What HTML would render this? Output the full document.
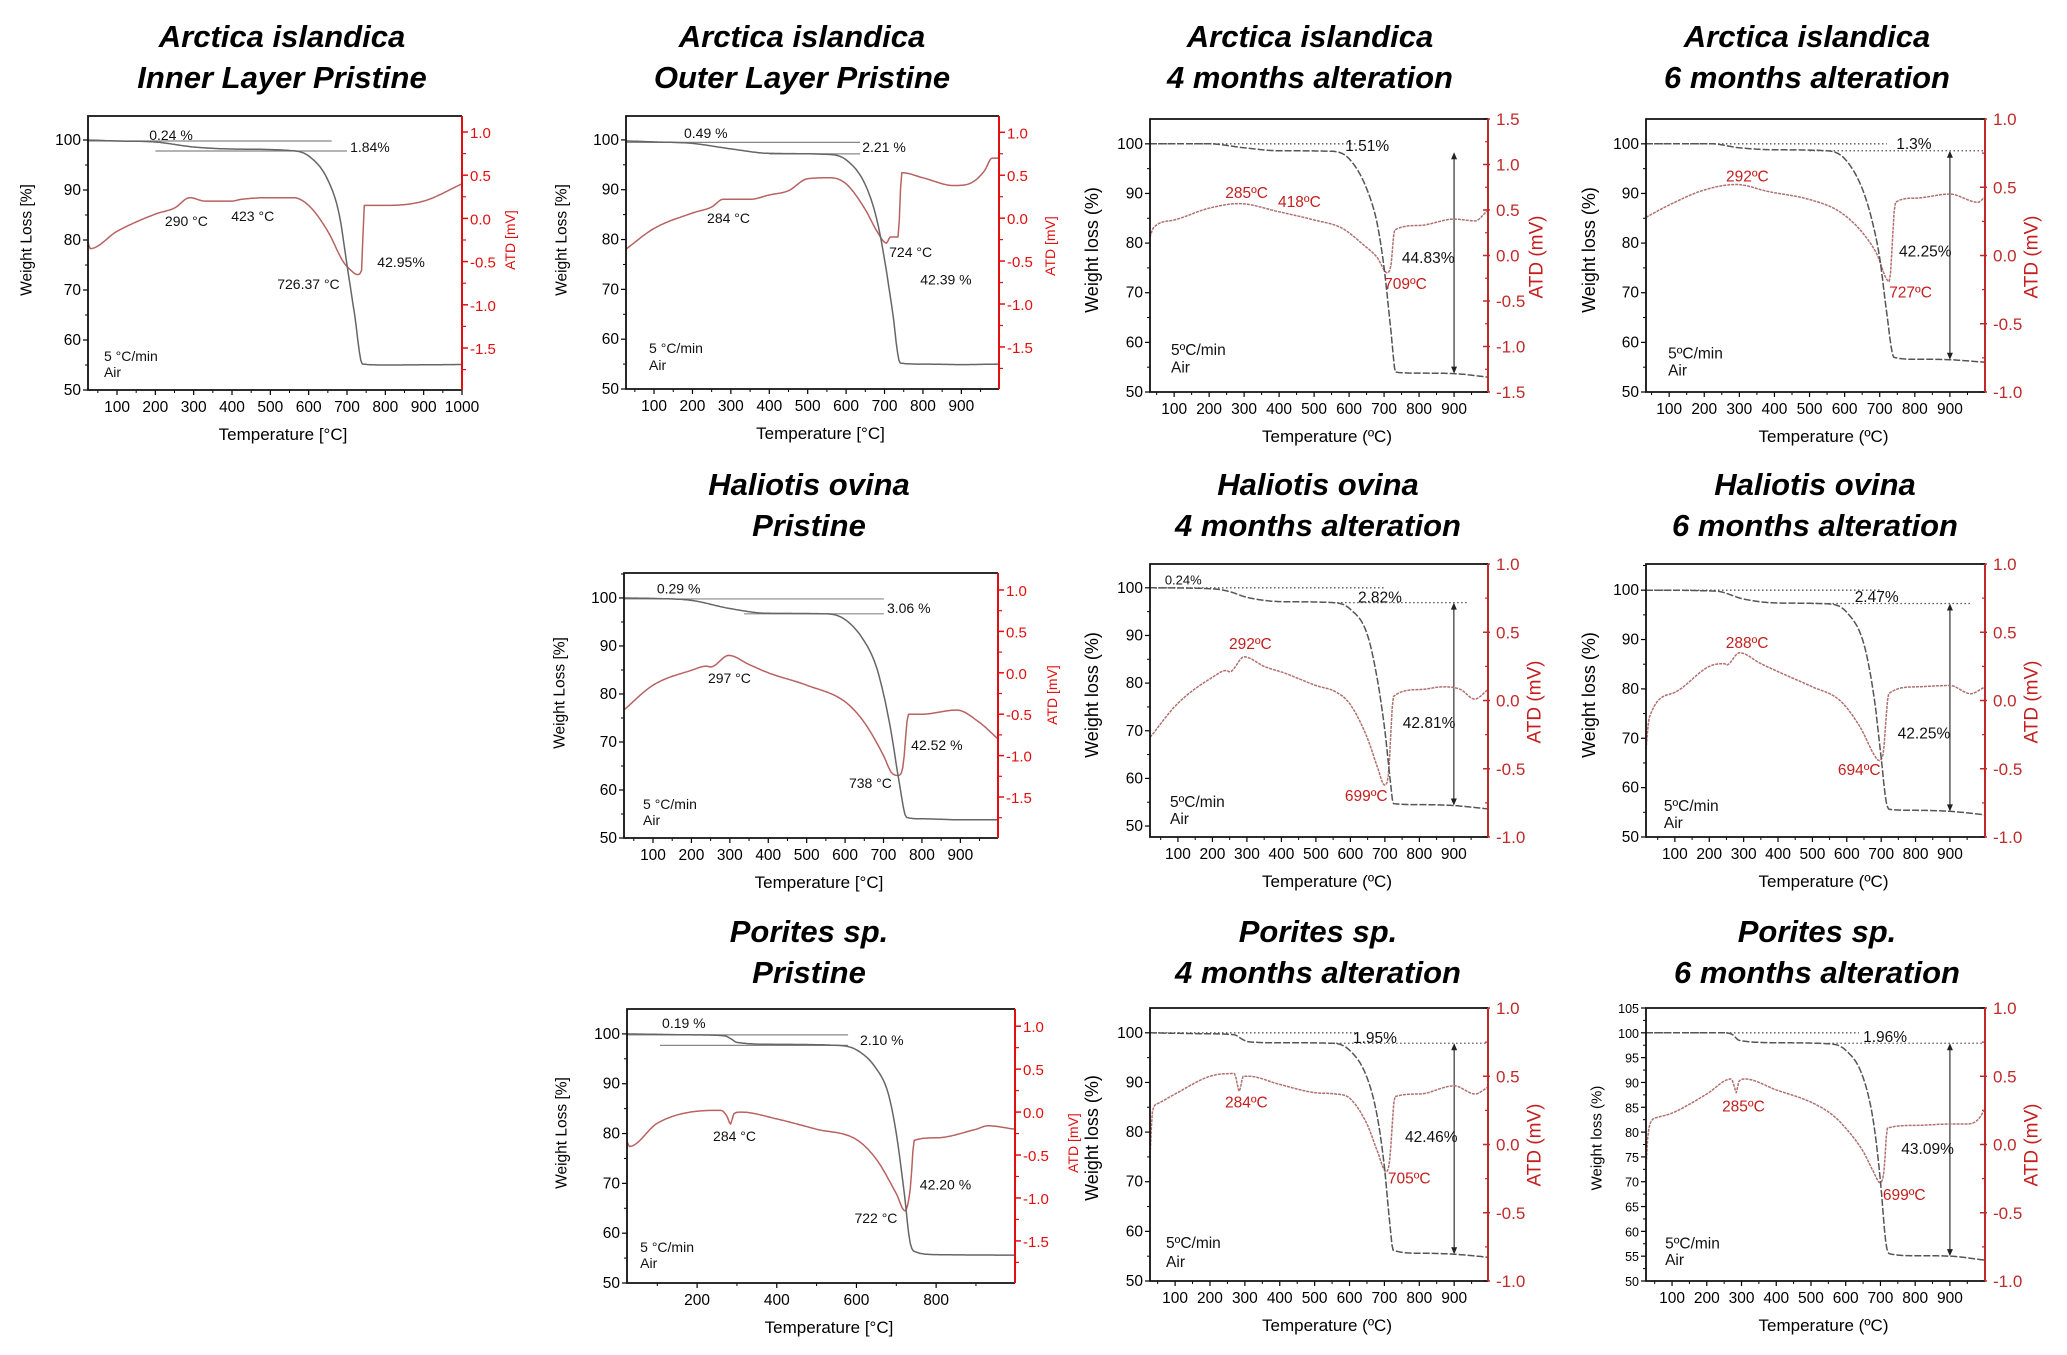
<!DOCTYPE html>
<html><head><meta charset="utf-8">
<style>
html,body{margin:0;padding:0;background:#fff;}
svg{display:block;font-family:"Liberation Sans",Arial,sans-serif;}
</style></head>
<body>
<svg id="fig" width="2067" height="1355" viewBox="0 0 2067 1355" xmlns="http://www.w3.org/2000/svg"></svg>
<script>
// ===== Data (temperature °C, weight %, ATD mV) =====
const p1_tgT=[24,100,200,300,400,550,600,650,680,700,720,740,800,1000];
const p1_tgW=[100,99.8,99.6,98.6,98.2,97.9,96.8,92,85,75,65,55.2,55,55.1];
const p1_dtT=[24,30,100,200,250,290,330,400,423,500,560,600,650,690,710,727,738,745,800,900,1000];
const p1_dtV=[-0.27,-0.35,-0.15,0.05,0.12,0.24,0.2,0.2,0.22,0.24,0.24,0.15,-0.15,-0.5,-0.6,-0.65,-0.6,0.15,0.15,0.2,0.4];

const p2_tgT=[27,100,200,300,400,550,600,650,680,700,720,741,800,900,998];
const p2_tgW=[99.8,99.6,99.3,98.2,97.3,97.1,96,91,84,76,66,55.2,55,54.9,55];
const p2_dtT=[27,100,200,250,280,350,400,450,500,560,600,650,680,705,715,735,745,800,880,920,960,980,998];
const p2_dtV=[-0.36,-0.12,0.06,0.13,0.22,0.22,0.27,0.32,0.46,0.47,0.4,0.1,-0.15,-0.29,-0.22,-0.22,0.53,0.47,0.38,0.4,0.55,0.7,0.7];

const p3_tgT=[31,200,300,400,550,600,650,680,700,720,733,800,900,997];
const p3_tgW=[100,100,99.2,98.6,98.5,97,91,84,75,62,54,53.8,53.7,53];
const p3_dtT=[31,40,100,200,285,400,500,580,640,680,709,720,730,800,900,960,997];
const p3_dtV=[0.2,0.3,0.39,0.52,0.57,0.48,0.39,0.3,0.12,-0.02,-0.19,-0.1,0.28,0.33,0.4,0.38,0.5];

const p4_tgT=[34,220,300,400,550,600,650,680,700,720,740,800,900,1000];
const p4_tgW=[100,100,99.2,98.8,98.6,97,91,84,77,66,57,56.6,56.5,56];
const p4_dtT=[34,100,200,292,380,500,580,640,690,727,745,800,900,980,1000];
const p4_dtV=[0.28,0.37,0.48,0.52,0.47,0.41,0.33,0.2,0.02,-0.19,0.39,0.42,0.45,0.39,0.43];

const p5_tgT=[24,100,200,300,400,550,600,650,680,700,720,740,760,800,900,998];
const p5_tgW=[100,99.9,99.5,97.8,96.8,96.7,95.5,91,86,80,72,62,54.3,54,53.8,53.8];
const p5_dtT=[24,100,200,240,250,297,350,400,500,600,650,700,720,738,750,765,800,890,950,998];
const p5_dtV=[-0.45,-0.15,0.03,0.08,0.07,0.21,0.1,0.0,-0.15,-0.35,-0.6,-1.0,-1.2,-1.24,-1.15,-0.5,-0.5,-0.45,-0.6,-0.8];

const p6_tgT=[19,200,250,300,400,550,600,650,680,700,715,725,800,900,999];
const p6_tgW=[100,99.8,99.2,98,97.1,96.9,95.5,90,80,70,60,54.7,54.5,54.3,53.6];
const p6_dtT=[19,100,200,240,250,292,350,410,500,560,600,650,680,699,710,725,800,870,920,960,999];
const p6_dtV=[-0.27,-0.02,0.17,0.22,0.21,0.32,0.25,0.2,0.11,0.06,-0.03,-0.28,-0.5,-0.62,-0.55,0.03,0.08,0.1,0.08,0.01,0.08];

const p7_tgT=[16,220,300,400,550,600,650,680,700,715,725,800,900,1002];
const p7_tgW=[100,99.8,98.2,97.4,97.2,95.5,89,78,66,57,55.6,55.4,55.2,54.5];
const p7_dtT=[16,25,100,200,245,250,288,350,410,500,580,640,680,694,705,722,800,900,960,1002];
const p7_dtV=[-0.36,-0.13,0.06,0.25,0.27,0.26,0.35,0.27,0.2,0.1,0.0,-0.2,-0.4,-0.44,-0.4,0.05,0.1,0.11,0.05,0.1];

const p8_tgT=[24,200,270,285,300,400,550,600,650,680,700,720,735,750,800,998];
const p8_tgW=[100,99.8,99.6,99,98.3,97.9,97.7,96.8,93,88,80,68,58,56.2,55.7,55.6];
const p8_dtT=[24,30,100,200,260,275,284,292,310,400,500,600,650,700,722,735,745,800,900,930,998];
const p8_dtV=[-0.34,-0.4,-0.13,0.01,0.02,-0.05,-0.14,-0.02,0.0,-0.08,-0.2,-0.32,-0.55,-0.95,-1.15,-0.9,-0.33,-0.3,-0.2,-0.16,-0.2];

const p9_tgT=[28,200,270,290,310,400,550,600,650,680,700,715,725,800,900,997];
const p9_tgW=[100,99.8,99.6,98.8,98.2,98,97.9,96.5,91,83,73,62,56.2,55.6,55.4,54.8];
const p9_dtT=[28,35,50,100,200,270,284,295,310,400,500,560,600,650,680,705,715,730,800,900,960,997];
const p9_dtV=[-0.1,0.24,0.3,0.37,0.5,0.52,0.39,0.5,0.5,0.44,0.38,0.37,0.34,0.15,-0.05,-0.2,-0.12,0.35,0.37,0.43,0.37,0.42];

const p10_tgT=[25,250,275,290,310,400,550,600,650,680,700,715,725,800,900,1001];
const p10_tgW=[100,100,99.6,98.6,98.3,98,97.8,96.5,91,82,70,58,55.5,55.1,55,54.2];
const p10_dtT=[25,30,40,60,100,200,270,280,285,292,310,400,500,560,600,650,680,699,710,720,800,900,950,980,1001];
const p10_dtV=[-0.17,0.05,0.17,0.2,0.23,0.37,0.48,0.42,0.38,0.46,0.48,0.4,0.31,0.22,0.12,-0.05,-0.2,-0.28,-0.2,0.12,0.14,0.15,0.15,0.18,0.26];

// tick label arrays
const xTicks100=[100,200,300,400,500,600,700,800,900,1000];
const xTicks200=[200,400,600,800];
const yTicks10=[50,60,70,80,90,100];
const yTicks5=[50,55,60,65,70,75,80,85,90,95,100,105];
const rTicksA=[1.0,0.5,0.0,-0.5,-1.0,-1.5];
const rTicksB=[1.5,1.0,0.5,0.0,-0.5,-1.0,-1.5];
const rTicksC=[1.0,0.5,0.0,-0.5,-1.0];

// ===== Panels =====
const panels=[
 {id:'p1',t1:'Arctica islandica',t2:'Inner Layer Pristine',cx:282,tb:47,L:88,R:462,T:116,B:390,xmin:24.3,xmax:1000,ymin:50,ymax:104.8,rmin:-1.986,rmax:1.185,
  xt:xTicks100,yt:yTicks10,rt:rTicksA,tgT:p1_tgT,tgW:p1_tgW,dtT:p1_dtT,dtV:p1_dtV,prist:true,lx:27,ly:240,rx:510,ry:240,
  refs:[[24,660,99.8],[200,700,97.8]],arrow:null,
  notes:[['0.24 %',184,101,'k'],['1.84%',708,98.6,'k'],['290 °C',225,83.8,'k'],['423 °C',398,84.8,'k'],['726.37 °C',518,71.2,'k'],['42.95%',779,75.6,'k'],['5 °C/min',66,56.8,'k'],['Air',66,53.6,'k']]},
 {id:'p2',t1:'Arctica islandica',t2:'Outer Layer Pristine',cx:802,tb:47,L:626,R:999,T:116,B:389,xmin:27,xmax:998,ymin:50,ymax:104.8,rmin:-1.99,rmax:1.19,
  xt:xTicks100.slice(0,9),yt:yTicks10,rt:rTicksA,tgT:p2_tgT,tgW:p2_tgW,dtT:p2_dtT,dtV:p2_dtV,prist:true,lx:562,ly:240,rx:1050,ry:246,
  refs:[[27,636,99.5],[400,636,97.2]],arrow:null,
  notes:[['0.49 %',178,101.4,'k'],['2.21 %',642,98.6,'k'],['284 °C',238,84.3,'k'],['724 °C',712,77.5,'k'],['42.39 %',793,72,'k'],['5 °C/min',87,58.2,'k'],['Air',87,54.8,'k']]},
 {id:'p3',t1:'Arctica islandica',t2:'4 months alteration',cx:1310,tb:47,L:1150,R:1488,T:119,B:392,xmin:31,xmax:997,ymin:50,ymax:105,rmin:-1.5,rmax:1.5,
  xt:xTicks100.slice(0,9),yt:yTicks10,rt:rTicksB,tgT:p3_tgT,tgW:p3_tgW,dtT:p3_dtT,dtV:p3_dtV,prist:false,lx:1092,ly:250,rx:1537,ry:257,
  refs:[[31,620,100]],arrow:[900,98.3,53.7],
  notes:[['1.51%',589,99.6,'k'],['285ºC',246,90.1,'r'],['418ºC',397,88.3,'r'],['709ºC',700,71.8,'r'],['44.83%',751,77,'k'],['5ºC/min',91,58.5,'k'],['Air',91,54.9,'k']]},
 {id:'p4',t1:'Arctica islandica',t2:'6 months alteration',cx:1807,tb:47,L:1646,R:1985,T:119,B:392,xmin:34,xmax:1000,ymin:50,ymax:105,rmin:-1,rmax:1,
  xt:xTicks100.slice(0,9),yt:yTicks10,rt:rTicksC,tgT:p4_tgT,tgW:p4_tgW,dtT:p4_dtT,dtV:p4_dtV,prist:false,lx:1589,ly:250,rx:2032,ry:257,
  refs:[[34,720,100],[500,1000,98.6]],arrow:[900,98.6,56.5],
  notes:[['1.3%',747,100,'k'],['292ºC',262,93.4,'r'],['42.25%',755,78.3,'k'],['727ºC',727,70,'r'],['5ºC/min',97,57.8,'k'],['Air',97,54.3,'k']]},
 {id:'p5',t1:'Haliotis ovina',t2:'Pristine',cx:809,tb:495,L:624,R:998,T:573,B:838,xmin:24.5,xmax:998,ymin:50,ymax:105.2,rmin:-1.995,rmax:1.205,
  xt:xTicks100.slice(0,9),yt:yTicks10,rt:rTicksA,tgT:p5_tgT,tgW:p5_tgW,dtT:p5_dtT,dtV:p5_dtV,prist:true,lx:560,ly:693,rx:1052,ry:695,
  refs:[[24,701,99.8],[337,701,96.7]],arrow:null,
  notes:[['0.29 %',110,102,'k'],['3.06 %',709,97.9,'k'],['297 °C',243,83.3,'k'],['738 °C',610,61.5,'k'],['42.52 %',772,69.4,'k'],['5 °C/min',74,57.1,'k'],['Air',74,53.8,'k']]},
 {id:'p6',t1:'Haliotis ovina',t2:'4 months alteration',cx:1318,tb:495,L:1150,R:1488,T:564,B:837,xmin:19,xmax:999,ymin:47.7,ymax:105,rmin:-1,rmax:1,
  xt:xTicks100.slice(0,9),yt:yTicks10,rt:rTicksC,tgT:p6_tgT,tgW:p6_tgW,dtT:p6_dtT,dtV:p6_dtV,prist:false,lx:1092,ly:695,rx:1535,ry:702,
  refs:[[19,700,100],[550,938,96.9]],arrow:[900,96.9,54.3],
  notes:[['0.24%',62,101.7,'k',13],['2.82%',622,98,'k'],['292ºC',248,88.2,'r'],['42.81%',752,71.6,'k'],['699ºC',584,56.3,'r'],['5ºC/min',77,55,'k'],['Air',77,51.5,'k']]},
 {id:'p7',t1:'Haliotis ovina',t2:'6 months alteration',cx:1815,tb:495,L:1646,R:1985,T:564,B:837,xmin:16,xmax:1002,ymin:50,ymax:105.3,rmin:-1,rmax:1,
  xt:xTicks100.slice(0,9),yt:yTicks10,rt:rTicksC,tgT:p7_tgT,tgW:p7_tgW,dtT:p7_dtT,dtV:p7_dtV,prist:false,lx:1589,ly:695,rx:2032,ry:702,
  refs:[[16,700,100],[500,960,97.3]],arrow:[900,97.3,55.2],
  notes:[['2.47%',623,98.6,'k'],['288ºC',248,89.3,'r'],['42.25%',748,71,'k'],['694ºC',574,63.6,'r'],['5ºC/min',68,56.3,'k'],['Air',68,52.8,'k']]},
 {id:'p8',t1:'Porites sp.',t2:'Pristine',cx:809,tb:942,L:627,R:1015,T:1009,B:1283,xmin:24,xmax:998,ymin:50,ymax:105,rmin:-1.99,rmax:1.2,
  xt:xTicks200,yt:yTicks10,rt:rTicksA,tgT:p8_tgT,tgW:p8_tgW,dtT:p8_dtT,dtV:p8_dtV,prist:true,lx:562,ly:1133,rx:1073,ry:1143,
  refs:[[24,579,99.8],[107,579,97.7]],arrow:null,
  notes:[['0.19 %',112,102.2,'k'],['2.10 %',609,98.8,'k'],['284 °C',240,79.5,'k'],['722 °C',595,63,'k'],['42.20 %',759,69.8,'k'],['5 °C/min',57,57.2,'k'],['Air',57,54,'k']]},
 {id:'p9',t1:'Porites sp.',t2:'4 months alteration',cx:1318,tb:942,L:1150,R:1488,T:1008,B:1281,xmin:28,xmax:997,ymin:50,ymax:105,rmin:-1,rmax:1,
  xt:xTicks100.slice(0,9),yt:yTicks10,rt:rTicksC,tgT:p9_tgT,tgW:p9_tgW,dtT:p9_dtT,dtV:p9_dtV,prist:false,lx:1092,ly:1138,rx:1535,ry:1145,
  refs:[[28,620,100],[550,997,97.9]],arrow:[900,97.9,55.4],
  notes:[['1.95%',610,99,'k'],['284ºC',243,86,'r'],['42.46%',759,79,'k'],['705ºC',710,70.6,'r'],['5ºC/min',74,57.7,'k'],['Air',74,53.8,'k']]},
 {id:'p10',t1:'Porites sp.',t2:'6 months alteration',cx:1817,tb:942,L:1646,R:1985,T:1008,B:1281,xmin:25,xmax:1001,ymin:50,ymax:105,rmin:-1,rmax:1,
  xt:xTicks100.slice(0,9),yt:yTicks5,rt:rTicksC,tgT:p10_tgT,tgW:p10_tgW,dtT:p10_dtT,dtV:p10_dtV,prist:false,lx:1597,ly:1138,rx:2032,ry:1145,small:true,
  refs:[[25,638,100],[550,1001,97.9]],arrow:[900,97.9,55],
  notes:[['1.96%',650,99.2,'k'],['285ºC',244,85.2,'r'],['43.09%',760,76.6,'k'],['699ºC',707,67.3,'r'],['5ºC/min',80,57.6,'k'],['Air',80,54.2,'k']]}
];

const NS='http://www.w3.org/2000/svg';
const svg=document.getElementById('fig');
function mk(tag,attrs,parent,txt){
  const e=document.createElementNS(NS,tag);
  for(const k in attrs) e.setAttribute(k,attrs[k]);
  if(txt!==undefined) e.textContent=txt;
  parent.appendChild(e);
  return e;
}
function fmt(v){return v.toFixed(1);}

// monotone cubic interpolation (Fritsch-Carlson) sampled densely
function smooth(T,V){
  const n=T.length, d=[], m=[];
  for(let i=0;i<n-1;i++) d.push((V[i+1]-V[i])/(T[i+1]-T[i]));
  m[0]=d[0]; m[n-1]=d[n-2];
  for(let i=1;i<n-1;i++){ m[i]=(d[i-1]*d[i]<=0)?0:(d[i-1]+d[i])/2; }
  for(let i=0;i<n-1;i++){
    if(d[i]===0){m[i]=0;m[i+1]=0;continue;}
    const a=m[i]/d[i], b=m[i+1]/d[i], s=a*a+b*b;
    if(s>9){const t=3/Math.sqrt(s); m[i]=t*a*d[i]; m[i+1]=t*b*d[i];}
  }
  const out=[];
  for(let i=0;i<n-1;i++){
    const h=T[i+1]-T[i], steps=Math.max(2,Math.ceil(h/4));
    for(let k=0;k<steps;k++){
      const t=k/steps, t2=t*t, t3=t2*t;
      const v=(2*t3-3*t2+1)*V[i]+(t3-2*t2+t)*h*m[i]+(-2*t3+3*t2)*V[i+1]+(t3-t2)*h*m[i+1];
      out.push([T[i]+t*h,v]);
    }
  }
  out.push([T[n-1],V[n-1]]);
  return out;
}

panels.forEach(function(c){
  const g=mk('g',{},svg);
  
  
  const X=t=>c.L+(t-c.xmin)/(c.xmax-c.xmin)*(c.R-c.L);
  const Y=w=>c.B-(w-c.ymin)/(c.ymax-c.ymin)*(c.B-c.T);
  const Y2=v=>c.B-(v-c.rmin)/(c.rmax-c.rmin)*(c.B-c.T);
  const red=c.prist?'#e01010':'#c02a2a';
  const dtaCol=c.prist?'#b86262':'#b07070';

  const ttl=mk('text',{x:c.cx,y:c.tb,'text-anchor':'middle','font-size':31,'font-weight':'bold','font-style':'italic',fill:'#000'},g);
  
  
  mk('tspan',{x:c.cx,dy:0},ttl,c.t1);
  mk('tspan',{x:c.cx,dy:41},ttl,c.t2);

  const tf=c.small?12.5:15.5;
  const yt=c.yt, ystep=yt[1]-yt[0];
  yt.forEach(function(v){
    if(v<c.ymin-0.01||v>c.ymax+0.01) return;
    const y=Y(v);
    mk('line',{x1:c.L-5,x2:c.L,y1:y,y2:y,stroke:'#000','stroke-width':1.2},g);
    const lb=mk('text',{x:c.L-7,y:y+5,'text-anchor':'end','font-size':tf,fill:'#000'},g,String(v));
    
    
    const m=v+ystep/2;
    if(m<c.ymax) mk('line',{x1:c.L-3,x2:c.L,y1:Y(m),y2:Y(m),stroke:'#000','stroke-width':1},g);
  });
  const xt=c.xt, xstep=xt[1]-xt[0];
  xt.forEach(function(v){
    const x=X(v);
    mk('line',{x1:x,x2:x,y1:c.B,y2:c.B+5,stroke:'#000','stroke-width':1.2},g);
    const lb=mk('text',{x:x,y:c.B+22,'text-anchor':'middle','font-size':15.5,fill:'#000'},g,String(v));
    
    
  });
  for(let v=xt[0]-xstep/2; v<c.xmax; v+=xstep){
    if(v>c.xmin) mk('line',{x1:X(v),x2:X(v),y1:c.B,y2:c.B+3,stroke:'#000','stroke-width':1},g);
  }
  c.rt.forEach(function(v){
    const y=Y2(v);
    mk('line',{x1:c.prist?c.R:c.R-5,x2:c.prist?c.R+6:c.R+2,y1:y,y2:y,stroke:red,'stroke-width':1.5},g);
    const lb=mk('text',{x:c.R+8,y:y+6,'font-size':c.prist?15:17,fill:red},g,fmt(v));
    
    
    const m=v-0.25;
    if(m>c.rmin) mk('line',{x1:c.prist?c.R:c.R-3,x2:c.prist?c.R+4:c.R,y1:Y2(m),y2:Y2(m),stroke:red,'stroke-width':1.2},g);
  });

  c.refs.forEach(function(r){
    const l=mk('line',{x1:X(r[0]),x2:X(r[1]),y1:Y(r[2]),y2:Y(r[2]),stroke:c.prist?'#888':'#555','stroke-width':c.prist?1.2:1.3,'stroke-dasharray':c.prist?'none':'1.5,2.5'},g);
    
    
  });
  if(c.arrow){
    const a=c.arrow, x=X(a[0]), y1=Y(a[1]), y2=Y(a[2]);
    const al=mk('line',{x1:x,x2:x,y1:y1+5,y2:y2-5,stroke:'#333','stroke-width':1.2},g);
    
    
    mk('path',{d:'M'+x+' '+y1+' l-3 7 l6 0 z M'+x+' '+y2+' l-3 -7 l6 0 z',fill:'#222'},g);
  }

  function pts(T,V,f){return smooth(T,V).map(p=>X(p[0]).toFixed(1)+','+f(p[1]).toFixed(1)).join(' ');}
  const dta=mk('polyline',{points:pts(c.dtT,c.dtV,Y2),fill:'none',stroke:dtaCol,'stroke-width':1.5,'stroke-linejoin':'round','stroke-dasharray':c.prist?'none':'3,1'},g);
  
  
  const tg=mk('polyline',{points:pts(c.tgT,c.tgW,Y),fill:'none',stroke:c.prist?'#666':'#555','stroke-width':1.5,'stroke-linejoin':'round','stroke-dasharray':c.prist?'none':'7,2'},g);
  
  

  const fr=mk('path',{d:'M'+c.R+' '+c.T+' L'+c.L+' '+c.T+' L'+c.L+' '+c.B+' L'+c.R+' '+c.B,fill:'none',stroke:'#111','stroke-width':1.8},g);
  
  
  const ra=mk('line',{x1:c.R,x2:c.R,y1:c.T,y2:c.B,stroke:red,'stroke-width':2},g);
  
  

  c.notes.forEach(function(n){
    const t=mk('text',{x:X(n[1]),y:Y(n[2])+5,'font-size':n[4]||(c.prist?14:15.5),fill:n[3]==='r'?'#c41e1e':'#111'},g,n[0]);
    
    
  });

  const lt=mk('text',{x:c.lx,y:c.ly,'text-anchor':'middle','font-size':c.prist?15.5:(c.small?15:18),fill:'#000',transform:'rotate(-90 '+c.lx+' '+c.ly+')','dominant-baseline':'central'},g,c.prist?'Weight Loss [%]':'Weight loss (%)');
  
  
  const rtt=mk('text',{x:c.rx,y:c.ry,'text-anchor':'middle','font-size':c.prist?14:19,fill:c.prist?'#e01010':'#c41e1e',transform:'rotate(-90 '+c.rx+' '+c.ry+')','dominant-baseline':'central'},g,c.prist?'ATD [mV]':'ATD (mV)');
  
  
  const xtt=mk('text',{x:(c.L+c.R)/2+8,y:c.B+50,'text-anchor':'middle','font-size':17,fill:'#000'},g,c.prist?'Temperature [°C]':'Temperature (ºC)');
  
  
});
</script>
</body></html>
